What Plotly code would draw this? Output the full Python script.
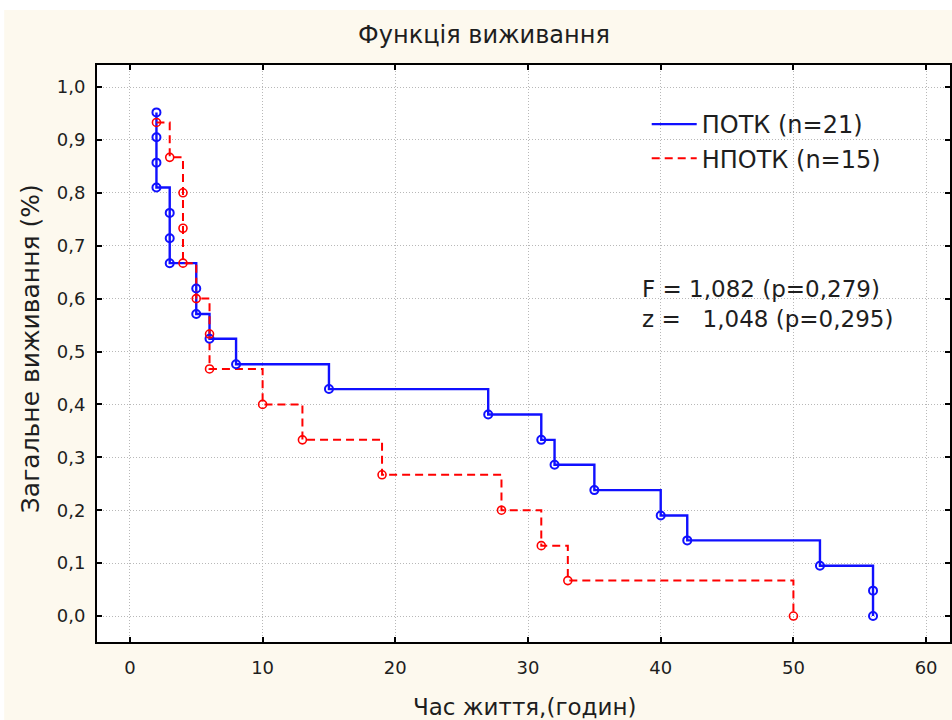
import plotly.graph_objects as go

# Kaplan-Meier survival estimates
potk_t = [2, 2, 2, 2, 3, 3, 3, 5, 5, 6, 8, 15, 27, 31, 32, 35, 40, 42, 52, 56, 56]
potk_s = [0.952, 0.905, 0.857, 0.810, 0.762, 0.714, 0.667, 0.619, 0.571, 0.524, 0.476,
          0.429, 0.381, 0.333, 0.286, 0.238, 0.190, 0.143, 0.095, 0.048, 0.0]
npotk_t = [2, 3, 4, 4, 4, 5, 6, 6, 10, 13, 19, 28, 31, 33, 50]
npotk_s = [0.933, 0.867, 0.800, 0.733, 0.667, 0.600, 0.533, 0.467, 0.400, 0.333,
           0.267, 0.200, 0.133, 0.067, 0.0]

series_names = ["ПОТК (n=21)", "НПОТК (n=15)"]
title_text = "Функція виживання"
x_title = "Час життя,(годин)"
y_title = "Загальне виживання (%)"
stats_text = "F = 1,082 (p=0,279)<br>z =\u00a0\u00a0\u00a01,048 (p=0,295)"
x_ticks = [0, 10, 20, 30, 40, 50, 60]
y_ticks = [0.0, 0.1, 0.2, 0.3, 0.4, 0.5, 0.6, 0.7, 0.8, 0.9, 1.0]

BLUE = "#1010ff"
RED = "#ff0000"
FONT = "DejaVu Sans"
TXT = "#1e1e1e"

fig = go.Figure()
fig.add_trace(go.Scatter(x=potk_t, y=potk_s, mode="lines", line=dict(color=BLUE, width=2.4, shape="hv"),
                         name=series_names[0]))
fig.add_trace(go.Scatter(x=npotk_t, y=npotk_s, mode="lines",
                         line=dict(color=RED, width=2, shape="hv", dash="8px,5px"),
                         name=series_names[1]))
fig.add_trace(go.Scatter(x=potk_t, y=potk_s, mode="markers", showlegend=False,
                         marker=dict(symbol="circle-open", size=8, color=BLUE, line=dict(width=2, color=BLUE))))
fig.add_trace(go.Scatter(x=npotk_t, y=npotk_s, mode="markers", showlegend=False,
                         marker=dict(symbol="circle-open", size=8, color=RED, line=dict(width=1.6, color=RED))))

axis_common = dict(showline=True, linecolor="black", linewidth=2, mirror="ticks",
                   ticks="inside", ticklen=5, tickcolor="black", tickwidth=1.5,
                   showgrid=True, gridcolor="#b8b8b8", gridwidth=1, griddash="1px,2px",
                   zeroline=False, tickfont=dict(family=FONT, size=18, color=TXT))

fig.update_xaxes(range=[-2.48, 61.8], tickvals=x_ticks, ticklabelstandoff=8, **axis_common)
fig.update_yaxes(range=[-0.0491, 1.0416], tickvals=y_ticks, tickformat=".1f",
                 ticklabelstandoff=6, **axis_common)

fig.update_layout(
    width=952, height=720, autosize=False,
    margin=dict(l=97, r=0, t=65, b=78),
    paper_bgcolor="#fdf9ee", plot_bgcolor="white",
    separators=",.",
    title=dict(text=title_text, x=484 / 952, xref="container", xanchor="center",
               y=1 - 35 / 720, yref="container", yanchor="middle",
               font=dict(family=FONT, size=24, color=TXT)),
    legend=dict(x=(648 - 97) / 855, xanchor="left", y=(642 - 102) / 577, yanchor="top",
                bgcolor="rgba(0,0,0,0)", font=dict(family=FONT, size=24, color=TXT),
                itemwidth=45),
    annotations=[
        dict(text=stats_text, xref="paper", yref="paper", x=(641 - 97) / 855, y=(642 - 274) / 577,
             xanchor="left", yanchor="top", align="left", showarrow=False,
             font=dict(family=FONT, size=23, color=TXT)),
        dict(text=x_title, xref="paper", yref="paper", x=(526 - 97) / 855, y=-(707 - 642) / 577,
             xanchor="center", yanchor="middle", showarrow=False,
             font=dict(family=FONT, size=23, color=TXT)),
        dict(text=y_title, xref="paper", yref="paper", x=(30 - 97) / 855, y=(642 - 349) / 577,
             xanchor="center", yanchor="middle", textangle=-90, showarrow=False,
             font=dict(family=FONT, size=25, color=TXT)),
    ],
    shapes=[
        dict(type="rect", xref="paper", yref="paper", x0=-0.2, x1=1.2, y0=(642 - 10) / 577, y1=1.3,
             fillcolor="white", line=dict(width=0), layer="above"),
        dict(type="rect", xref="paper", yref="paper", x0=-0.2, x1=(4 - 97) / 855, y0=-0.2, y1=1.3,
             fillcolor="white", line=dict(width=0), layer="above"),
    ],
)

fig.write_html("out.html", config={"displayModeBar": False},
               post_script="document.body.style.margin='0';document.body.style.overflow='hidden';")
